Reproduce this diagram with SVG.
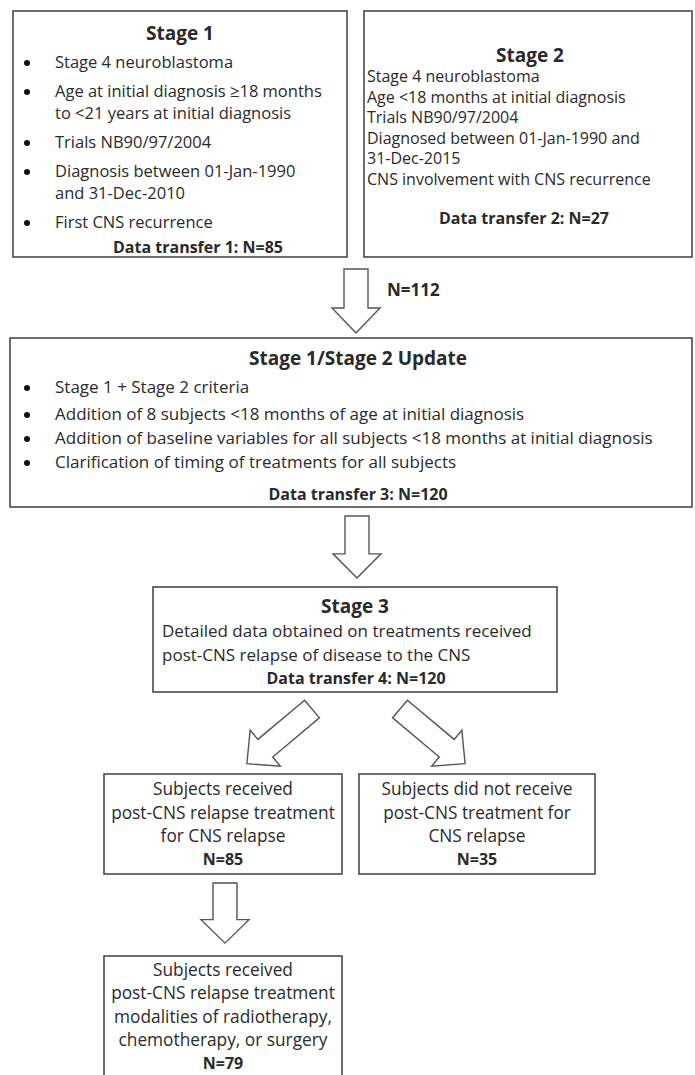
<svg xmlns="http://www.w3.org/2000/svg" width="695" height="1075" viewBox="0 0 695 1075">
<style>
.box{fill:#fff;stroke:#4a4a4a;stroke-width:1.6}
.arr{fill:#fff;stroke:#555;stroke-width:1.4;stroke-linejoin:miter}
text{font-family:"Open Sans","Liberation Sans",sans-serif;font-size:16.5px;fill:#2a2a2a}
.t{font-weight:bold;font-size:19px;text-anchor:middle}
.b{font-weight:bold;font-size:16px}
.c{text-anchor:middle}
.s2{font-size:16px}
.u{font-size:17px}
.m{font-size:17.3px}
.dot{fill:#111}
</style>
<defs>
<polygon id="dn" points="-12,0 12,0 12,39 24,39 0,64 -24,39 -12,39"/>
<polygon id="dg" points="-11.5,0 11.5,0 11.5,61 23.5,61 0,85 -23.5,61 -11.5,61"/>
</defs>
<rect width="695" height="1075" fill="#fff"/>

<g id="stage1">
<rect class="box" x="13" y="11" width="334" height="246"/>
<text class="t" x="180" y="40">Stage 1</text>
<circle class="dot" cx="27" cy="63" r="3"/>
<text x="55" y="68">Stage 4 neuroblastoma</text>
<circle class="dot" cx="27" cy="92" r="3"/>
<text x="55" y="97">Age at initial diagnosis ≥18 months</text>
<text x="55" y="119">to &lt;21 years at initial diagnosis</text>
<circle class="dot" cx="27" cy="143" r="3"/>
<text x="55" y="148">Trials NB90/97/2004</text>
<circle class="dot" cx="27" cy="172" r="3"/>
<text x="55" y="177">Diagnosis between 01-Jan-1990</text>
<text x="55" y="199">and 31-Dec-2010</text>
<circle class="dot" cx="27" cy="223" r="3"/>
<text x="55" y="228">First CNS recurrence</text>
<text class="b c" x="198" y="253">Data transfer 1: N=85</text>
</g>

<g id="stage2">
<rect class="box" x="364" y="11" width="328" height="246"/>
<text class="t" x="530" y="62">Stage 2</text>
<text class="s2" x="367" y="82">Stage 4 neuroblastoma</text>
<text class="s2" x="367" y="102.5">Age &lt;18 months at initial diagnosis</text>
<text class="s2" x="367" y="123">Trials NB90/97/2004</text>
<text class="s2" x="367" y="143.5">Diagnosed between 01-Jan-1990 and</text>
<text class="s2" x="367" y="164">31-Dec-2015</text>
<text class="s2" x="367" y="184.5">CNS involvement with CNS recurrence</text>
<text class="b c" x="524" y="224">Data transfer 2: N=27</text>
</g>

<g id="update">
<rect class="box" x="10" y="338" width="682" height="169"/>
<text class="t" x="358" y="365">Stage 1/Stage 2 Update</text>
<circle class="dot" cx="27" cy="388" r="3"/>
<text class="u" x="55" y="393">Stage 1 + Stage 2 criteria</text>
<circle class="dot" cx="27" cy="415" r="3"/>
<text class="u" x="55" y="420">Addition of 8 subjects &lt;18 months of age at initial diagnosis</text>
<circle class="dot" cx="27" cy="439" r="3"/>
<text class="u" x="55" y="444">Addition of baseline variables for all subjects &lt;18 months at initial diagnosis</text>
<circle class="dot" cx="27" cy="463" r="3"/>
<text class="u" x="55" y="468">Clarification of timing of treatments for all subjects</text>
<text class="b c" x="358" y="500">Data transfer 3: N=120</text>
</g>

<g id="stage3">
<rect class="box" x="153" y="587" width="404" height="105"/>
<text class="t" x="355" y="613">Stage 3</text>
<text class="u" x="162" y="637">Detailed data obtained on treatments received</text>
<text class="u" x="162" y="661">post-CNS relapse of disease to the CNS</text>
<text class="b c" x="356" y="684">Data transfer 4: N=120</text>
</g>

<g id="treated">
<rect class="box" x="104" y="774" width="238" height="100"/>
<text class="c m" x="223" y="795">Subjects received</text>
<text class="c m" x="223" y="819">post-CNS relapse treatment</text>
<text class="c m" x="223" y="842">for CNS relapse</text>
<text class="b c" x="223" y="865">N=85</text>
</g>

<g id="untreated">
<rect class="box" x="359" y="774" width="236" height="100"/>
<text class="c m" x="477" y="795">Subjects did not receive</text>
<text class="c m" x="477" y="819">post-CNS treatment for</text>
<text class="c m" x="477" y="842">CNS relapse</text>
<text class="b c" x="477" y="865">N=35</text>
</g>

<g id="modalities">
<rect class="box" x="104" y="956" width="238" height="130"/>
<text class="c m" x="223" y="976">Subjects received</text>
<text class="c m" x="223" y="999">post-CNS relapse treatment</text>
<text class="c m" x="223" y="1023">modalities of radiotherapy,</text>
<text class="c m" x="223" y="1046">chemotherapy, or surgery</text>
<text class="b c" x="223" y="1069">N=79</text>
</g>

<g id="connectors">
<use href="#dn" class="arr" transform="translate(356,269)"/>
<text class="b" x="387" y="296" style="font-size:17px">N=112</text>
<use href="#dn" class="arr" transform="translate(357,516) scale(1,0.97)"/>
<use href="#dg" class="arr" transform="translate(312,709) rotate(50)"/>
<use href="#dg" class="arr" transform="translate(400,709) rotate(-50)"/>
<use href="#dn" class="arr" transform="translate(225,883) scale(1,0.94)"/>
</g>
</svg>
